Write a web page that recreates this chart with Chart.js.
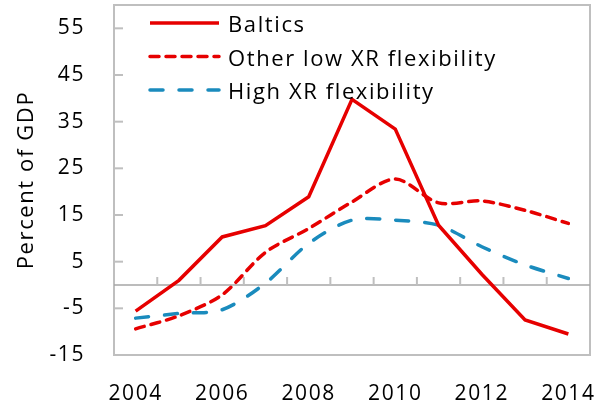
<!DOCTYPE html>
<html>
<head>
<meta charset="utf-8">
<script src="https://cdn.jsdelivr.net/npm/chart.js@4.4.1/dist/chart.umd.min.js"></script>
<style>
  html, body { margin: 0; padding: 0; background: #fff; }
  #wrap { width: 606px; height: 408px; }
</style>
</head>
<body>
<div id="wrap"><canvas id="chartXR"></canvas></div>
<script>
const YEARS = ['2004', '2005', '2006', '2007', '2008', '2009', '2010', '2011', '2012', '2013', '2014'];
const BALTICS = [-5.6, 1.0, 10.3, 12.7, 18.9, 39.8, 33.4, 12.8, 2.3, -7.5, -10.5];
const OTHER_LOW = [-9.4, -6.6, -2.1, 7.0, 12.1, 17.8, 22.7, 17.6, 18.0, 16.0, 13.2];
const HIGH_XR = [-7.1, -6.1, -5.3, 0.4, 8.9, 13.9, 13.9, 12.8, 8.2, 4.3, 1.4];
const Y_TICKS = [-15, -5, 5, 15, 25, 35, 45, 55];

const RED = '#e60000';
const BLUE = '#1a8bbd';
const FONT = '"Open Sans", sans-serif';
const SPACING = '1.6px';

// canvas letter spacing gets reset whenever the canvas is resized
const spacing = {
  id: 'spacing',
  beforeLayout(chart) { chart.ctx.letterSpacing = SPACING; },
  beforeDraw(chart) { chart.ctx.letterSpacing = SPACING; },
};

const frame = {
  id: 'frame',
  beforeDatasetsDraw(chart) {
    const { ctx, chartArea: a, scales: { x, y } } = chart;
    const line = (x1, y1, x2, y2) => {
      ctx.beginPath();
      ctx.moveTo(x1, y1);
      ctx.lineTo(x2, y2);
      ctx.stroke();
    };
    ctx.save();
    ctx.strokeStyle = '#bfbfbf';
    ctx.lineWidth = 2;
    ctx.strokeRect(a.left, a.top, a.width, a.height);
    Y_TICKS.forEach((v) => {
      const py = y.getPixelForValue(v);
      line(a.left, py, a.left + 9, py);
    });
    const y0 = y.getPixelForValue(0);
    ctx.strokeStyle = '#a6a6a6';
    ctx.lineWidth = 1.5;
    line(a.left, y0, a.right, y0);
    ctx.strokeStyle = '#bfbfbf';
    ctx.lineWidth = 2;
    for (let i = 1; i < YEARS.length; i++) {
      const px = (x.getPixelForValue(i - 1) + x.getPixelForValue(i)) / 2;
      line(px, y0, px, y0 - 8);
    }
    ctx.restore();
  },
};

const insideLegend = {
  id: 'insideLegend',
  afterDraw(chart) {
    const { ctx, chartArea: a } = chart;
    ctx.save();
    ctx.font = `22px ${FONT}`;
    ctx.fillStyle = '#000';
    ctx.textBaseline = 'middle';
    chart.data.datasets.forEach((ds, i) => {
      const py = a.top + 18 + i * 33.5;
      ctx.strokeStyle = ds.borderColor;
      ctx.lineWidth = ds.borderWidth;
      ctx.lineCap = ds.borderCapStyle || 'butt';
      ctx.setLineDash(ds.borderDash || []);
      ctx.beginPath();
      ctx.moveTo(a.left + 36, py);
      ctx.lineTo(a.left + 105, py);
      ctx.stroke();
      ctx.setLineDash([]);
      ctx.fillText(ds.label, a.left + 114, py + 3);
    });
    ctx.restore();
  },
};

new Chart(document.getElementById('chartXR').getContext('2d'), {
  type: 'line',
  data: {
    labels: YEARS,
    datasets: [
      {
        label: 'Baltics',
        data: BALTICS,
        borderColor: RED,
        borderWidth: 3.5,
        pointRadius: 0,
        tension: 0,
      },
      {
        label: 'Other low XR flexibility',
        data: OTHER_LOW,
        borderColor: RED,
        borderWidth: 3.5,
        borderDash: [9, 7],
        borderCapStyle: 'round',
        pointRadius: 0,
        tension: 0.3,
      },
      {
        label: 'High XR flexibility',
        data: HIGH_XR,
        borderColor: BLUE,
        borderWidth: 3.5,
        borderDash: [13, 16],
        borderCapStyle: 'round',
        pointRadius: 0,
        tension: 0.3,
      },
    ],
  },
  options: {
    responsive: true,
    maintainAspectRatio: false,
    animation: false,
    layout: { padding: { top: 5, right: 16, left: 0, bottom: 0 } },
    scales: {
      x: {
        type: 'category',
        offset: true,
        grid: { display: false, drawTicks: false },
        border: { display: false },
        afterFit: (scale) => {
          scale.height = 53;
          scale.paddingLeft = 0;
          scale.paddingRight = 0;
        },
        ticks: {
          autoSkip: false,
          maxRotation: 0,
          padding: 26,
          color: '#000',
          font: { family: FONT, size: 21 },
          callback: (value, index) => (index % 2 === 0 ? YEARS[index] : ''),
        },
      },
      y: {
        min: -15,
        max: 60,
        grid: { display: false, drawTicks: false },
        border: { display: false },
        afterFit: (scale) => {
          scale.width = 114;
          scale.paddingTop = 0;
          scale.paddingBottom = 0;
        },
        afterBuildTicks: (scale) => { scale.ticks = Y_TICKS.map((value) => ({ value })); },
        ticks: {
          padding: 29,
          color: '#000',
          font: { family: FONT, size: 21 },
        },
        title: {
          display: true,
          text: 'Percent of GDP',
          color: '#000',
          font: { family: FONT, size: 22 },
          padding: { top: 14, bottom: 0 },
        },
      },
    },
    plugins: {
      legend: { display: false },
      tooltip: { enabled: false },
    },
  },
  plugins: [spacing, frame, insideLegend],
});
</script>
</body>
</html>
